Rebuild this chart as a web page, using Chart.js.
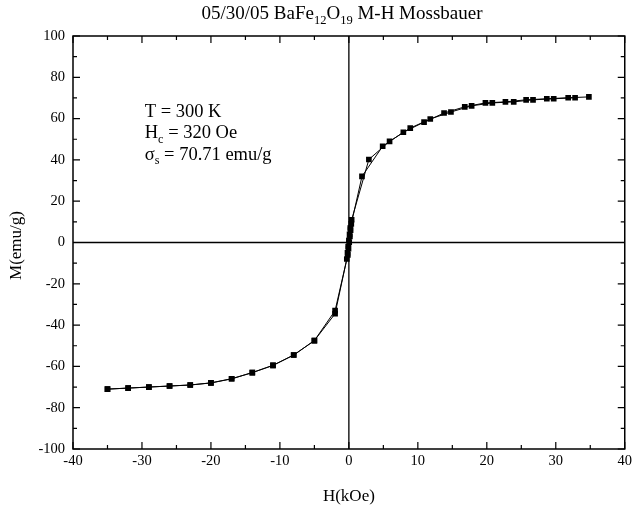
<!DOCTYPE html>
<html>
<head>
<meta charset="utf-8">
<script src="https://cdn.jsdelivr.net/npm/chart.js@4.4.0/dist/chart.umd.min.js"></script>
<style>
  html, body { margin: 0; padding: 0; background: #fff; }
  #wrap { width: 635px; height: 508px; position: relative; }
</style>
</head>
<body>
<div id="wrap"><canvas id="c" width="635" height="508"></canvas></div>
<script>
// Descending branch (H from +35 to -35 kOe)
const H_desc = [34.8, 31.8, 28.7, 25.7, 22.7, 19.8, 16.8, 13.8, 10.9, 7.9, 4.9, 1.9, 0.35, 0.25, 0.15, 0.05, -0.05, -0.15, -2.0, -5.0, -8.0, -11.0, -14.0, -17.0, -20.0, -23.0, -26.0, -29.0, -32.0, -35.0];
const M_desc = [70.5, 70.1, 69.6, 69.1, 68.1, 67.6, 65.7, 62.7, 58.3, 53.4, 46.6, 32.0, 9, 6, 3, 0, -3, -6, -33, -47.5, -54.5, -59.5, -63, -66, -68, -69, -69.5, -70, -70.5, -71];
// Ascending branch (H from -35 to +33 kOe)
const H_asc = [-35, -32, -29, -26, -23, -20, -17, -14, -11, -8, -5, -2, -0.3, -0.2, -0.1, 0.0, 0.1, 0.2, 0.4, 2.9, 5.9, 8.9, 11.8, 14.8, 17.8, 20.8, 23.9, 26.7, 29.7, 32.8];
const M_asc = [-71, -70.5, -70, -69.5, -69, -68, -66, -63, -59.5, -54.5, -47.5, -34.5, -8, -5, -2, 1, 4, 7, 11, 40.2, 49, 55.4, 59.8, 63.2, 66.2, 67.6, 68.1, 69.1, 69.6, 70.1];

const xTicksMajor = [-40, -30, -20, -10, 0, 10, 20, 30, 40];
const yTicksMajor = [-100, -80, -60, -40, -20, 0, 20, 40, 60, 80, 100];

const titleParts = [{t: '05/30/05 BaFe'}, {t: '12', sub: true}, {t: 'O'}, {t: '19', sub: true}, {t: ' M-H Mossbauer'}];
const noteLines = [
  {pos: [-29.6, 63], parts: [{t: 'T = 300 K'}]},
  {pos: [-29.6, 52.8], parts: [{t: 'H'}, {t: 'c', sub: true}, {t: ' = 320 Oe'}]},
  {pos: [-29.6, 42.4], parts: [{t: 'σ'}, {t: 's', sub: true}, {t: ' = 70.71 emu/g'}]}
];

const FONT = '"Liberation Serif", "DejaVu Serif", serif';

function toPts(xs, ys) { return xs.map((x, i) => ({x: x, y: ys[i]})); }

function richWidth(ctx, parts, size) {
  let w = 0;
  for (const p of parts) {
    ctx.font = (p.sub ? size * 0.66 : size) + 'px ' + FONT;
    w += ctx.measureText(p.t).width;
  }
  return w;
}
function drawRich(ctx, parts, x, y, size) {
  ctx.textBaseline = 'middle';
  ctx.textAlign = 'left';
  let cx = x;
  for (const p of parts) {
    ctx.font = (p.sub ? size * 0.66 : size) + 'px ' + FONT;
    ctx.fillText(p.t, cx, p.sub ? y + size * 0.34 : y);
    cx += ctx.measureText(p.t).width;
  }
}

const frame = {
  id: 'frame',
  afterDatasetsDraw(chart) {
    const {ctx, chartArea: a, scales: {x, y}} = chart;
    ctx.save();
    ctx.strokeStyle = '#000';
    // zero lines
    ctx.lineWidth = 1.3;
    ctx.beginPath();
    ctx.moveTo(x.getPixelForValue(0), a.top); ctx.lineTo(x.getPixelForValue(0), a.bottom);
    ctx.moveTo(a.left, y.getPixelForValue(0)); ctx.lineTo(a.right, y.getPixelForValue(0));
    ctx.stroke();
    // ticks
    ctx.lineWidth = 1.2;
    ctx.beginPath();
    for (let v = -40; v <= 40; v += 5) {
      const px = x.getPixelForValue(v);
      const len = (v % 10 === 0) ? 7 : 4;
      ctx.moveTo(px, a.bottom); ctx.lineTo(px, a.bottom - len);
      ctx.moveTo(px, a.top); ctx.lineTo(px, a.top + len);
    }
    for (let v = -100; v <= 100; v += 10) {
      const py = y.getPixelForValue(v);
      const len = (v % 20 === 0) ? 7 : 4;
      ctx.moveTo(a.left, py); ctx.lineTo(a.left + len, py);
      ctx.moveTo(a.right, py); ctx.lineTo(a.right - len, py);
    }
    ctx.stroke();
    // frame
    ctx.lineWidth = 1.5;
    ctx.strokeRect(a.left, a.top, a.right - a.left, a.bottom - a.top);
    ctx.fillStyle = '#000';
    // title
    const ts = 19;
    const tw = richWidth(ctx, titleParts, ts);
    drawRich(ctx, titleParts, x.getPixelForValue(-1) - tw / 2, 14, ts);
    // notes
    for (const n of noteLines) {
      drawRich(ctx, n.parts, x.getPixelForValue(n.pos[0]), y.getPixelForValue(n.pos[1]), 18.5);
    }
    // axis titles
    ctx.font = '17px ' + FONT;
    ctx.textAlign = 'center';
    ctx.textBaseline = 'middle';
    ctx.fillText('H(kOe)', x.getPixelForValue(0), 497);
    ctx.translate(17, y.getPixelForValue(0) + 3);
    ctx.rotate(-Math.PI / 2);
    ctx.fillText('M(emu/g)', 0, 0);
    ctx.restore();
  }
};

new Chart(document.getElementById('c'), {
  type: 'scatter',
  data: {
    datasets: [
      {data: toPts(H_desc, M_desc), showLine: true, borderColor: '#000', backgroundColor: '#000', borderWidth: 1, pointStyle: 'rect', pointRadius: 4, pointBorderWidth: 0, tension: 0},
      {data: toPts(H_asc, M_asc), showLine: true, borderColor: '#000', backgroundColor: '#000', borderWidth: 1, pointStyle: 'rect', pointRadius: 4, pointBorderWidth: 0, tension: 0}
    ]
  },
  options: {
    responsive: false,
    animation: false,
    devicePixelRatio: 1,
    layout: {padding: {left: 0, right: 2, top: 36, bottom: 0}},
    plugins: {legend: {display: false}, tooltip: {enabled: false}, title: {display: false}},
    scales: {
      x: {
        type: 'linear', min: -40, max: 40,
        afterBuildTicks(s) { s.ticks = xTicksMajor.map(v => ({value: v})); },
        afterFit(s) { s.height = 59; },
        grid: {display: false, drawTicks: false},
        border: {display: false},
        ticks: {color: '#000', font: {family: FONT, size: 14.5}, padding: 3, maxRotation: 0}
      },
      y: {
        type: 'linear', min: -100, max: 100,
        afterBuildTicks(s) { s.ticks = yTicksMajor.map(v => ({value: v})); },
        afterFit(s) { s.width = 73; },
        grid: {display: false, drawTicks: false},
        border: {display: false},
        ticks: {color: '#000', font: {family: FONT, size: 14.5}, padding: 8}
      }
    }
  },
  plugins: [frame]
});
</script>
</body>
</html>
